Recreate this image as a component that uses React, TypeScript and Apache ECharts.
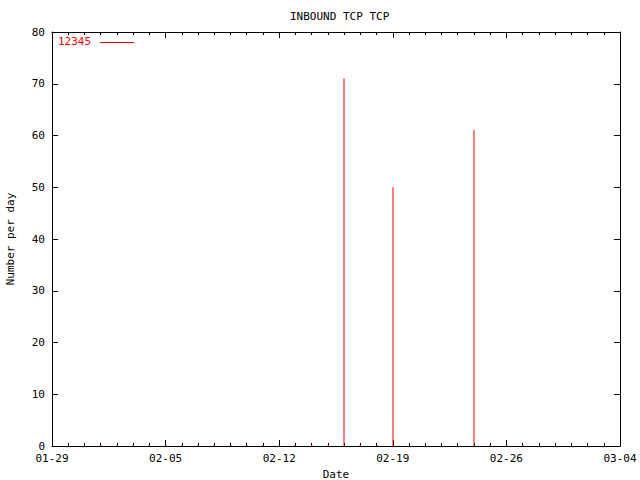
import React, { useEffect, useRef } from "react";
import * as echarts from "echarts";

const startDate = "2004-01-29";
const endDate = "2004-03-04";
const seriesName = "12345";
const dates = [
  "2004-02-01", "2004-02-02", "2004-02-03", "2004-02-04", "2004-02-05",
  "2004-02-06", "2004-02-07", "2004-02-08", "2004-02-09", "2004-02-10",
  "2004-02-11", "2004-02-13", "2004-02-14", "2004-02-15", "2004-02-16",
  "2004-02-17", "2004-02-18", "2004-02-19", "2004-02-24", "2004-02-25",
  "2004-02-27",
];
const values = [0, 0, 0, 0, 0, 0, 0, 0, 0, 0, 0, 0, 0, 0, 71, 0, 0, 50, 61, 0, 0];
const yMin = 0;
const yMax = 80;
const yStep = 10;
const xStepDays = 7;

const DAY = 86400000;
const t0 = Date.parse(startDate + "T00:00:00Z");
const dayIndex = (d: string) => Math.round((Date.parse(d + "T00:00:00Z") - t0) / DAY);
const xMax = dayIndex(endDate);
const fmtDay = (i: number) => {
  const d = new Date(t0 + i * DAY);
  const mm = String(d.getUTCMonth() + 1).padStart(2, "0");
  const dd = String(d.getUTCDate()).padStart(2, "0");
  return mm + "-" + dd;
};

const FONT = "DejaVu Sans Mono";
const RED = "#f00";

export default function App() {
  const ref = useRef<HTMLDivElement>(null);
  useEffect(() => {
    if (!ref.current) return;
    const chart = echarts.init(ref.current, null, { renderer: "svg" });
    const data = dates.map((d, i) => [dayIndex(d), values[i]]);
    const lineStyle = { color: "#000", width: 1 };
    const baseX = {
      type: "value" as const,
      min: 0,
      max: xMax,
      interval: xStepDays,
      axisLine: { show: true, onZero: false, lineStyle },
      axisTick: { show: true, inside: true, length: 6, lineStyle },
      minorTick: { show: true, splitNumber: 7, length: 3, lineStyle },
      splitLine: { show: false },
      minorSplitLine: { show: false },
    };
    const baseY = {
      type: "value" as const,
      min: yMin,
      max: yMax,
      interval: yStep,
      axisLine: { show: true, onZero: false, lineStyle },
      axisTick: { show: true, inside: true, length: 6, lineStyle },
      splitLine: { show: false },
    };
    chart.setOption({
      animation: false,
      backgroundColor: "#fff",
      textStyle: { fontFamily: FONT },
      title: {
        text: "INBOUND TCP TCP",
        left: 285,
        top: 6,
        textStyle: { fontFamily: FONT, fontSize: 11, fontWeight: "normal", color: "#000" },
      },
      graphic: [
        {
          type: "text",
          left: 58,
          top: 36,
          style: { text: seriesName, fill: RED, font: `11px "${FONT}"` },
        },
        {
          type: "line",
          shape: { x1: 100, y1: 42.5, x2: 134, y2: 42.5 },
          style: { stroke: RED, lineWidth: 1 },
        },
      ],
      grid: { left: 52, right: 20, top: 32, bottom: 34, outerBoundsMode: "none", containLabel: false },
      xAxis: [
        {
          ...baseX,
          position: "bottom",
          name: "Date",
          nameLocation: "middle",
          nameGap: 22,
          nameTextStyle: { fontFamily: FONT, fontSize: 11, color: "#000" },
          axisLabel: {
            show: true,
            margin: 7,
            fontFamily: FONT,
            fontSize: 11,
            color: "#000",
            formatter: (v: number) => fmtDay(v),
          },
        },
        { ...baseX, position: "top", axisLabel: { show: false } },
      ],
      yAxis: [
        {
          ...baseY,
          position: "left",
          name: "Number per day",
          nameLocation: "middle",
          nameGap: 36,
          nameTextStyle: { fontFamily: FONT, fontSize: 11, color: "#000" },
          axisLabel: { show: true, margin: 7, fontFamily: FONT, fontSize: 11, color: "#000" },
        },
        { ...baseY, position: "right", axisLabel: { show: false } },
      ],
      series: [
        {
          name: seriesName,
          type: "custom",
          xAxisIndex: 0,
          yAxisIndex: 0,
          itemStyle: { color: RED },
          data,
          renderItem: (params: any, api: any) => {
            const x = api.value(0);
            const y = api.value(1);
            const p0 = api.coord([x, 0]);
            const p1 = api.coord([x, y]);
            const h = Math.max(1, p0[1] - p1[1]);
            return {
              type: "rect",
              shape: { x: Math.round(p0[0]) - 0.5, y: p0[1] - h, width: 1, height: h },
              style: { fill: RED },
            };
          },
        },
      ],
    });
    return () => chart.dispose();
  }, []);
  return (
    <div
      ref={ref}
      style={{ position: "fixed", left: 0, top: 0, width: 640, height: 480 }}
    />
  );
}
